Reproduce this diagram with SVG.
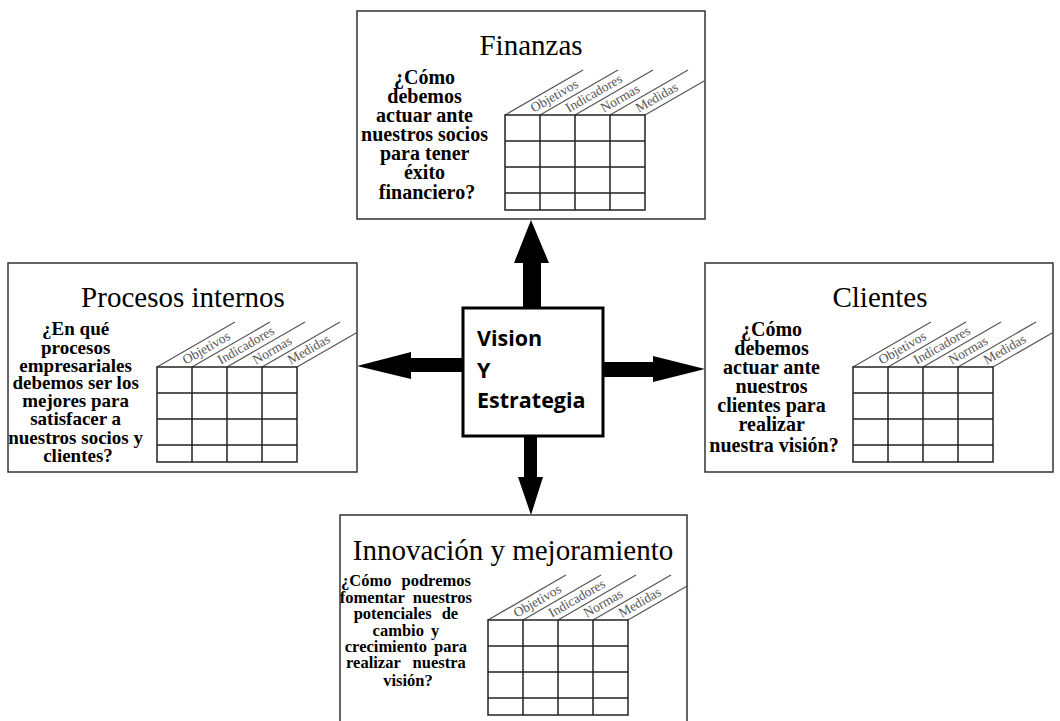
<svg xmlns="http://www.w3.org/2000/svg" xmlns:xlink="http://www.w3.org/1999/xlink" width="1060" height="721" viewBox="0 0 1060 721">
<style>
.box{fill:#fff;stroke:#333;stroke-width:1.5}
.title{font-family:"Liberation Serif",serif;font-size:29px;fill:#000;text-anchor:middle}
.q{font-family:"Liberation Serif",serif;font-weight:bold;fill:#000;text-anchor:middle}
.gl{stroke:#222;stroke-width:1.5;fill:none}
.dg{stroke:#555;stroke-width:1.2}
.lab{font-family:"Liberation Serif",serif;font-size:13.5px;fill:#555}
.center{font-family:"Open Sans",sans-serif;font-weight:bold;font-size:21.5px;fill:#000}
.arrow{fill:#000}
</style>
<defs>
<g id="grid">
<line class="dg" x1="0" y1="0" x2="78" y2="-45"/>
<line class="dg" x1="35" y1="0" x2="113" y2="-45"/>
<line class="dg" x1="70" y1="0" x2="148" y2="-45"/>
<line class="dg" x1="105" y1="0" x2="183" y2="-45"/>
<line class="dg" x1="140" y1="0" x2="200" y2="-34.6"/>
<rect class="gl" x="0" y="0" width="140" height="95"/>
<path class="gl" d="M35 0V95M70 0V95M105 0V95M0 26H140M0 52H140M0 78H140"/>
<g transform="rotate(-30)">
<text class="lab" x="26" y="12.5">Objetivos</text>
<text class="lab" x="56.3" y="30">Indicadores</text>
<text class="lab" x="86.6" y="47.5">Normas</text>
<text class="lab" x="116.9" y="65">Medidas</text>
</g>
</g>
</defs>

<g id="connectors">
<polygon class="arrow" points="523,308 523,263 514,263 531,220 549,263 541,263 541,308"/>
<polygon class="arrow" points="463,358 411,358 411,352 357,366 411,379 411,372 463,372"/>
<polygon class="arrow" points="603,362 653,362 653,356 705,369 653,382 653,377 603,377"/>
<polygon class="arrow" points="524,436 524,477 518,477 531,515 543,477 537,477 537,436"/>
</g>

<g id="finanzas">
<rect class="box" x="357" y="11" width="348" height="208" stroke="#111"/>
<text class="title" x="531" y="55">Finanzas</text>
<text class="q" font-size="20">
<tspan x="427" y="83.5">¿Cómo</tspan>
<tspan x="427" y="102.5">debemos</tspan>
<tspan x="427" y="121.5">actuar ante</tspan>
<tspan x="427" y="140.5">nuestros socios</tspan>
<tspan x="427" y="159.5">para tener</tspan>
<tspan x="427" y="178.5">éxito</tspan>
<tspan x="427" y="199">financiero?</tspan>
</text>
<use xlink:href="#grid" x="505" y="115"/>
</g>

<g id="procesos">
<rect class="box" x="8" y="263" width="349" height="209"/>
<text class="title" x="183" y="307">Procesos internos</text>
<text class="q" font-size="19">
<tspan x="78" y="335">¿En qué</tspan>
<tspan x="78" y="354">procesos</tspan>
<tspan x="78" y="371.5">empresariales</tspan>
<tspan x="78" y="389">debemos ser los</tspan>
<tspan x="78" y="407">mejores para</tspan>
<tspan x="78" y="425">satisfacer a</tspan>
<tspan x="78" y="444">nuestros socios y</tspan>
<tspan x="78" y="462">clientes?</tspan>
</text>
<use xlink:href="#grid" x="157" y="367"/>
</g>

<g id="clientes">
<rect class="box" x="705" y="263" width="348" height="209"/>
<text class="title" x="880" y="307">Clientes</text>
<text class="q" font-size="20">
<tspan x="774" y="336">¿Cómo</tspan>
<tspan x="774" y="355">debemos</tspan>
<tspan x="774" y="374">actuar ante</tspan>
<tspan x="774" y="393">nuestros</tspan>
<tspan x="774" y="412">clientes para</tspan>
<tspan x="774" y="431">realizar</tspan>
<tspan x="774" y="451.5">nuestra visión?</tspan>
</text>
<use xlink:href="#grid" x="853" y="367"/>
</g>

<g id="innovacion">
<rect class="box" x="340" y="515" width="347" height="220"/>
<text class="title" x="513" y="560">Innovación y mejoramiento</text>
<text class="q" font-size="16.5">
<tspan x="408" y="586" word-spacing="6">¿Cómo podremos</tspan>
<tspan x="408" y="603" word-spacing="4">fomentar nuestros</tspan>
<tspan x="408" y="619" word-spacing="6">potenciales de</tspan>
<tspan x="408" y="636" word-spacing="3">cambio y</tspan>
<tspan x="408" y="652" word-spacing="3">crecimiento para</tspan>
<tspan x="408" y="668" word-spacing="8">realizar nuestra</tspan>
<tspan x="408" y="686">visión?</tspan>
</text>
<use xlink:href="#grid" x="488" y="620"/>
</g>

<g id="vision">
<rect x="463" y="308" width="140" height="128" fill="#fff" stroke="#000" stroke-width="3"/>
<text class="center" x="477" y="346">Vision</text>
<text class="center" x="477" y="378">Y</text>
<text class="center" x="477" y="408">Estrategia</text>
</g>
</svg>
